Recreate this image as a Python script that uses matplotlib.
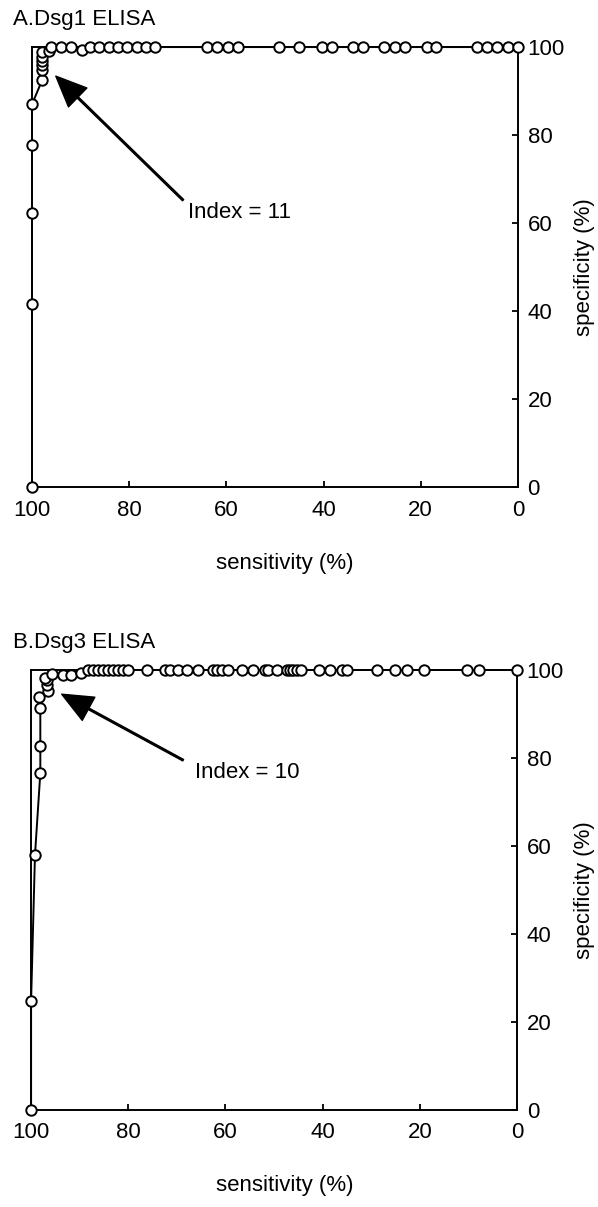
"""ROC curves for Dsg1 and Dsg3 ELISA
"""
import numpy as np
import matplotlib.pyplot as plt

plt.rcParams['font.family'] = ['Liberation Sans', 'DejaVu Sans']
plt.rcParams['font.size'] = 16

# panel A: Dsg1 ELISA (sensitivity, specificity in %)
sens_a = [100, 100, 100, 100, 100, 97.9, 97.9, 97.9, 97.9, 97.9, 97.9, 96.5,
          96.1, 94.0, 92.0, 89.8, 88.1, 86.2, 84.2, 82.3, 80.5, 78.4, 76.5, 74.7,
          64.0, 61.9, 59.7, 57.6, 49.2, 45.1, 40.3, 38.3, 34.0, 31.9, 27.6, 25.3,
          23.3, 18.7, 16.9, 8.4, 6.4, 4.3, 2.1, 0]
spec_a = [0, 41.6, 62.3, 77.7, 87.0, 92.5, 94.8, 95.9, 96.8, 97.7, 98.9, 99.2,
          100, 100, 100, 99.4, 100, 100, 100, 100, 100, 100, 100, 100,
          100, 100, 100, 100, 100, 100, 100, 100, 100, 100, 100, 100,
          100, 100, 100, 100, 100, 100, 100, 100]

# panel B: Dsg3 ELISA
sens_b = [100, 100, 99.2, 98.1, 98.1, 98.1, 98.3, 96.5, 96.8, 96.8, 97.1, 95.8,
          93.5, 91.7, 89.7, 88.3, 87.2, 86.2, 85.2, 84.2, 83.1, 82.1, 81.1, 80.0,
          76.1, 72.4, 71.4, 69.8, 67.9, 65.6, 62.6, 61.7, 60.7, 59.5, 56.6, 54.3,
          51.9, 51.2, 49.4, 47.3, 46.7, 46.1, 45.3, 44.4, 40.7, 38.5, 36.0, 35.0,
          28.8, 25.1, 22.6, 19.1, 10.3, 7.8, 0]
spec_b = [0, 24.8, 58.0, 76.6, 82.7, 91.4, 93.9, 95.3, 96.6, 97.7, 98.2, 99.1,
          98.9, 98.9, 99.3] + [100] * 40

panels = [
    ('A.Dsg1 ELISA', sens_a, spec_a, 'Index = 11', (95.1, 93.4), (68.9, 65.2), (67.8, 62.3)),
    ('B.Dsg3 ELISA', sens_b, spec_b, 'Index = 10', (93.7, 94.5), (68.7, 79.5), (66.3, 76.6)),
]

fig = plt.figure(figsize=(5.98, 12.07), dpi=100)
rects = [[0.0535, 0.5965, 0.8125, 0.3645], [0.052, 0.0804, 0.8125, 0.3645]]

for rect, (title, sens, spec, idx, tip, tail, txt) in zip(rects, panels):
    ax = fig.add_axes(rect)
    ax.plot(sens, spec, '-o', color='black', mfc='white', mec='black',
            ms=7.5, mew=1.4, lw=1.4, clip_on=False, zorder=3)
    ax.set_xlim(100, 0)
    ax.set_ylim(0, 100)
    ax.set_xticks([100, 80, 60, 40, 20, 0])
    ax.set_yticks([0, 20, 40, 60, 80, 100])
    ax.yaxis.tick_right()
    ax.tick_params(direction='in', length=4, width=1.3, labelsize=16)
    ax.tick_params(axis='x', pad=9)
    ax.tick_params(axis='y', pad=7)
    for s in ax.spines.values():
        s.set_linewidth(1.4)
    ax.annotate('', xy=tip, xytext=tail,
                arrowprops=dict(facecolor='black', edgecolor='black', width=1.2,
                                headwidth=19, headlength=22))
    ax.text(txt[0], txt[1], idx, ha='left', va='center', fontsize=16)

    pos = ax.get_position()
    fig.text(0.021, pos.y1 + 0.023, title, ha='left', va='center', fontsize=16)
    fig.text(285 / 598, pos.y0 - 0.063, 'sensitivity (%)', ha='center', va='center', fontsize=16)
    fig.text(0.978, (pos.y0 + pos.y1) / 2, 'specificity (%)', ha='center', va='center',
             rotation=90, fontsize=16)

plt.savefig('out.png', dpi=100)
